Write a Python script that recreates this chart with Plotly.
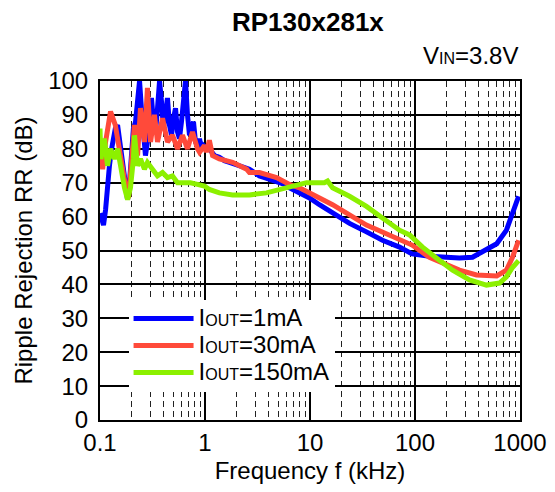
import plotly.graph_objects as go

# ---- data ----
f_1mA = [0.100, 0.103, 0.108, 0.113, 0.118, 0.123, 0.129, 0.134, 0.140, 0.147,
         0.153, 0.160, 0.167, 0.175, 0.183, 0.191, 0.200, 0.208, 0.218, 0.228,
         0.238, 0.248, 0.260, 0.271, 0.283, 0.296, 0.309, 0.323, 0.338, 0.353,
         0.369, 0.385, 0.402, 0.420, 0.439, 0.459, 0.480, 0.501, 0.524, 0.547,
         0.571, 0.597, 0.624, 0.652, 0.681, 0.712, 0.744, 0.777, 0.812, 0.848,
         0.887, 0.926, 0.967, 1.01, 1.10, 1.23, 1.37, 1.53, 1.71, 1.91,
         2.13, 2.38, 2.65, 2.96, 3.30, 3.69, 4.11, 4.59, 5.12, 5.72,
         6.38, 7.94, 9.89, 12.3, 16.4, 23.8, 34.5, 49.0, 71.2, 93.8,
         137, 183, 265, 353, 440, 600, 743, 848, 970]
rr_1mA = [61, 59, 57.5, 62, 70, 75, 80, 84, 86, 87,
          83, 77, 72, 67, 65, 70, 80, 86, 88, 93,
          100, 92, 84, 78, 82, 90, 95, 88, 85, 92,
          100, 94, 86, 90, 95, 87, 84, 89, 92, 85,
          83, 88, 95, 100, 90, 84, 86, 88, 82, 81,
          83, 80, 81, 80.5, 80, 78, 77.5, 76.5, 76, 75.5,
          75, 74.5, 74, 73, 72, 71.5, 71, 70.5, 70, 69.5,
          68.5, 67, 65.5, 63.5, 61, 58, 55.5, 53, 51, 49,
          48.3, 48, 47.8, 48, 49.5, 52, 56, 61, 66]

f_30mA = [0.100, 0.106, 0.113, 0.126, 0.140, 0.157, 0.175, 0.187, 0.195, 0.213,
          0.228, 0.243, 0.265, 0.283, 0.303, 0.330, 0.353, 0.394, 0.439, 0.490,
          0.547, 0.610, 0.681, 0.760, 0.848, 0.887, 0.989, 1.03, 1.10, 1.18,
          1.37, 1.83, 2.49, 2.65, 3.30, 4.80, 6.38, 7.94, 10.6, 16.4,
          34.5, 71.2, 93.8, 137, 183, 265, 385, 600, 743, 848, 970]
rr_30mA = [80.5, 74, 82, 91, 87, 77, 69, 65.5, 72, 87,
           78, 92, 82, 98, 82, 90, 82, 89, 82, 84,
           80, 84, 80, 85, 80, 79, 81, 79, 82.5, 78,
           77, 76, 74, 73, 73, 71.5, 69.5, 68.5, 66.5, 63.5,
           57.5, 53, 51.6, 48, 46.3, 44.2, 42.8, 42.5, 44.2, 48, 53]

f_150mA = [0.100, 0.102, 0.110, 0.118, 0.126, 0.137, 0.147, 0.157, 0.171, 0.183,
           0.195, 0.208, 0.213, 0.228, 0.243, 0.265, 0.283, 0.316, 0.353, 0.394,
           0.439, 0.490, 0.547, 0.638, 0.728, 0.848, 0.989, 1.10, 1.37, 1.83,
           2.65, 3.85, 5.12, 6.81, 9.26, 10.6, 13.7, 14.7, 16.4, 23.8,
           34.5, 49.0, 71.2, 88.7, 118, 160, 228, 330, 479, 638, 743, 848, 970]
rr_150mA = [86, 77, 83, 75, 80, 77, 80, 74, 68.5, 65,
            68.5, 77, 84, 75, 77, 74, 76, 74, 72, 73,
            71.5, 72, 70, 70, 70, 69.5, 69, 68, 67, 66.4,
            66.4, 67, 68, 69, 70, 70, 70, 70.5, 68.5, 66,
            63, 59.6, 56, 54.6, 51, 47.8, 44.2, 41.3, 39.8, 40.4, 42.2, 45, 47]


def iout_label(current):
    return ("<span style='font-size:24px'>I</span>"
            "<span style='font-size:16px'>OUT</span>"
            "<span style='font-size:24px'>=" + current + "</span>")


series_currents = ["1mA", "30mA", "150mA"]
series_colors = ["#0000ff", "#ff4a3a", "#8cf000"]

x_tickvals = [0.1, 1, 10, 100, 1000]
x_ticktext = ["0.1", "1", "10", "100", "1000"]
y_tickvals = [0, 10, 20, 30, 40, 50, 60, 70, 80, 90, 100]

FONT = "Liberation Sans, Arial, sans-serif"

fig = go.Figure()
for fx, fy, cur, col in zip([f_1mA, f_30mA, f_150mA],
                            [rr_1mA, rr_30mA, rr_150mA],
                            series_currents, series_colors):
    fig.add_trace(go.Scatter(x=fx, y=fy, mode="lines", name=iout_label(cur),
                             line=dict(color=col, width=5)))

fig.update_layout(
    width=539, height=476,
    margin=dict(l=92, r=27, t=73, b=64, autoexpand=False),
    paper_bgcolor="white", plot_bgcolor="white",
    font=dict(family=FONT, color="black", size=24),
    showlegend=True,
    legend=dict(x=0.068, y=0.354, xanchor="left", yanchor="top",
                bgcolor="white", borderwidth=0,
                font=dict(family=FONT, size=18.5, color="black"),
                itemwidth=60, tracegroupgap=0),
)

fig.update_xaxes(
    type="log", range=[-1, 3],
    tickmode="array", tickvals=x_tickvals, ticktext=x_ticktext,
    tickfont=dict(size=24), ticks="",
    showgrid=True, gridcolor="black", gridwidth=1.8,
    minor=dict(dtick="D1", showgrid=True, gridcolor="#222222",
               gridwidth=1.2, griddash="6px,4px", ticks=""),
    showline=True, linecolor="black", linewidth=2, mirror=True,
    title=dict(text="Frequency f (kHz)", font=dict(size=24), standoff=10),
    zeroline=False, automargin=False,
)
fig.update_yaxes(
    range=[0, 100], tickmode="array", tickvals=y_tickvals,
    tickfont=dict(size=24), ticks="", ticklabelstandoff=5,
    showgrid=True, gridcolor="black", gridwidth=1.8,
    showline=True, linecolor="black", linewidth=2, mirror=True,
    title=dict(text="Ripple Rejection RR (dB)", font=dict(size=24), standoff=9),
    zeroline=False, automargin=False,
)

fig.add_annotation(text="<b>RP130x281x</b>", xref="paper", yref="paper",
                   x=0.495, y=1.174, xanchor="center", yanchor="middle",
                   showarrow=False, font=dict(family=FONT, size=26, color="black"))
fig.add_annotation(text="V<span style='font-size:16px'>IN</span>=3.8V",
                   xref="paper", yref="paper", x=1.0, y=1.074,
                   xanchor="right", yanchor="middle", showarrow=False,
                   font=dict(family=FONT, size=24, color="black"))

fig.write_html("out.html")
